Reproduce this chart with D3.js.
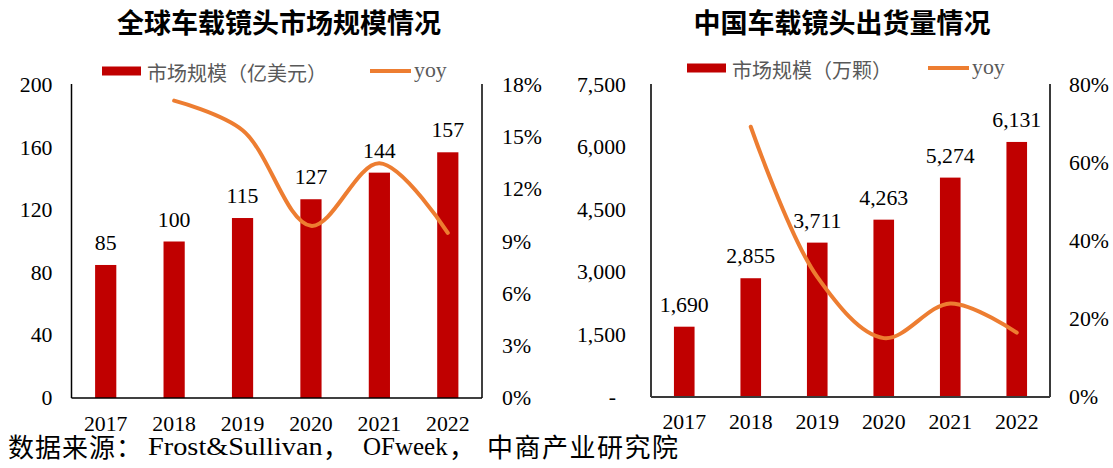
<!DOCTYPE html>
<html>
<head>
<meta charset="utf-8">
<script src="https://cdn.jsdelivr.net/npm/d3@7"></script>
<style>
  body { margin: 0; background: #fff; }
  svg { display: block; }
</style>
</head>
<body>
<div id="chart"></div>
<script>
// ---- data ----
const years = ['2017', '2018', '2019', '2020', '2021', '2022'];

const globalMarket = [85, 100, 115, 127, 144, 157];          // 亿美元
const globalYoy = [null, 0.171, 0.154, 0.099, 0.135, 0.095];
const globalTicks = [0, 40, 80, 120, 160, 200];
const globalYoyTicks = [0, 0.03, 0.06, 0.09, 0.12, 0.15, 0.18];

const chinaShipment = [1690, 2855, 3711, 4263, 5274, 6131];   // 万颗
const chinaYoy = [null, 0.693, 0.308, 0.151, 0.240, 0.165];
const chinaTicks = [0, 1500, 3000, 4500, 6000, 7500];
const chinaYoyTicks = [0, 0.2, 0.4, 0.6, 0.8];

const BAR = '#C00000';
const LINE = '#ED7D31';
const SERIF = '"Liberation Serif", "Times New Roman", serif';
const CJK = '"Noto Sans CJK SC", "Noto Sans", sans-serif';
const STRETCH = 1.09;

const svg = d3.select('#chart').append('svg')
    .attr('width', 1113)
    .attr('height', 468);

// numbers in the original are a bit wider than Times, so stretch them sideways
function numText(g, x, y, str, anchor, size = 20, sx = STRETCH) {
    return g.append('text')
        .attr('transform', `translate(${x},${y}) scale(${sx},1)`)
        .attr('text-anchor', anchor)
        .attr('font-family', SERIF)
        .attr('font-size', size)
        .attr('fill', '#000')
        .text(str);
}

function drawPanel(cfg) {
    const g = svg.append('g');

    const x = d3.scaleBand()
        .domain(years)
        .range([cfg.left, cfg.right])
        .paddingInner(0.69)
        .paddingOuter(0.345);

    const y = d3.scaleLinear()
        .domain([0, cfg.yMax])
        .range([cfg.bottom, cfg.top]);

    const y2 = d3.scaleLinear()
        .domain([0, cfg.rMax])
        .range([cfg.bottom, cfg.top]);

    // title
    g.append('text')
        .attr('x', cfg.titleX)
        .attr('y', 33)
        .attr('text-anchor', 'middle')
        .attr('font-family', CJK)
        .attr('font-weight', 'bold')
        .attr('font-size', 27)
        .text(cfg.title);

    // legend
    g.append('rect')
        .attr('x', cfg.legendX)
        .attr('y', cfg.legendY - 4.5)
        .attr('width', 39)
        .attr('height', 9)
        .attr('fill', BAR);
    g.append('text')
        .attr('x', cfg.legendX + 45)
        .attr('y', cfg.legendY + 1)
        .attr('dominant-baseline', 'central')
        .attr('font-family', CJK)
        .attr('font-size', 20)
        .attr('fill', '#595959')
        .text(cfg.legendLabel);
    g.append('line')
        .attr('x1', cfg.yoyLegendX)
        .attr('x2', cfg.yoyLegendX + 41)
        .attr('y1', cfg.legendY)
        .attr('y2', cfg.legendY)
        .attr('stroke', LINE)
        .attr('stroke-width', 4);
    numText(g, cfg.yoyLegendX + 44, cfg.legendY + 6, 'yoy', 'start')
        .attr('fill', '#595959');

    // bars
    g.selectAll('.bar')
        .data(cfg.values)
        .enter()
        .append('rect')
        .attr('class', 'bar')
        .attr('x', (d, i) => x(years[i]))
        .attr('y', d => y(d))
        .attr('width', x.bandwidth())
        .attr('height', d => y(0) - y(d))
        .attr('fill', BAR);

    // bar labels
    cfg.values.forEach((d, i) => {
        numText(g, x(years[i]) + x.bandwidth() / 2, y(d) - 15, d3.format(',')(d), 'middle');
    });

    // axes frame
    const axisStyle = sel => sel.attr('stroke', cfg.axisColor).attr('stroke-width', cfg.axisWidth);
    g.append('line').attr('x1', cfg.left).attr('x2', cfg.left)
        .attr('y1', cfg.top - 1).attr('y2', cfg.bottom).call(axisStyle);
    g.append('line').attr('x1', cfg.right).attr('x2', cfg.right)
        .attr('y1', cfg.top - 1).attr('y2', cfg.bottom).call(axisStyle);
    g.append('line').attr('x1', cfg.left).attr('x2', cfg.right)
        .attr('y1', cfg.bottom).attr('y2', cfg.bottom).call(axisStyle);

    // left tick labels
    cfg.yTicks.forEach(t => {
        const label = cfg.yFormat(t);
        const shift = label === '-' ? -10 : 0;
        numText(g, cfg.left - cfg.leftGap + shift, y(t) + 7, label, 'end');
    });

    // right tick labels
    cfg.rTicks.forEach(t => {
        numText(g, cfg.right + cfg.rightGap, y2(t) + 7, d3.format('.0%')(t), 'start');
    });

    // year labels
    years.forEach(yr => {
        numText(g, x(yr) + x.bandwidth() / 2, cfg.yearBaseline, yr, 'middle');
    });

    // yoy line
    const pts = cfg.yoy
        .map((v, i) => ({year: years[i], v}))
        .filter(d => d.v !== null);

    const line = d3.line()
        .x(d => x(d.year) + x.bandwidth() / 2)
        .y(d => y2(d.v))
        .curve(d3.curveCatmullRom.alpha(0.5));

    g.append('path')
        .datum(pts)
        .attr('d', line)
        .attr('fill', 'none')
        .attr('stroke', LINE)
        .attr('stroke-width', 4)
        .attr('stroke-linecap', 'round');
}

drawPanel({
    title: '全球车载镜头市场规模情况',
    titleX: 279,
    left: 71.5, right: 482, top: 85, bottom: 398,
    values: globalMarket,
    yoy: globalYoy,
    yMax: 200, yTicks: globalTicks, yFormat: d3.format('d'),
    rMax: 0.18, rTicks: globalYoyTicks,
    legendLabel: '市场规模（亿美元）',
    legendX: 102, legendY: 71, yoyLegendX: 370,
    axisColor: '#000', axisWidth: 1.5,
    leftGap: 19, rightGap: 20,
    yearBaseline: 431
});

drawPanel({
    title: '中国车载镜头出货量情况',
    titleX: 842,
    left: 651, right: 1050, top: 85, bottom: 397,
    values: chinaShipment,
    yoy: chinaYoy,
    yMax: 7500, yTicks: chinaTicks, yFormat: v => v === 0 ? '-' : d3.format(',')(v),
    rMax: 0.8, rTicks: chinaYoyTicks,
    legendLabel: '市场规模（万颗）',
    legendX: 687, legendY: 68, yoyLegendX: 928,
    axisColor: '#3a3a3a', axisWidth: 2,
    leftGap: 25, rightGap: 19,
    yearBaseline: 429
});

// source line
const src = svg.append('g');
const cjkSource = (x, str) => src.append('text')
    .attr('x', x).attr('y', 457)
    .attr('font-family', CJK).attr('font-size', 26)
    .text(str);

cjkSource(8, '数据来源：')
    .attr('textLength', 134).attr('lengthAdjust', 'spacing');
numText(src, 148, 455, 'Frost&Sullivan', 'start', 26, 1.09);
cjkSource(323, '，');
numText(src, 363, 455, 'OFweek', 'start', 25, 1);
cjkSource(449, '，');
cjkSource(487, '中商产业研究院')
    .attr('textLength', 191).attr('lengthAdjust', 'spacing');
</script>
</body>
</html>
